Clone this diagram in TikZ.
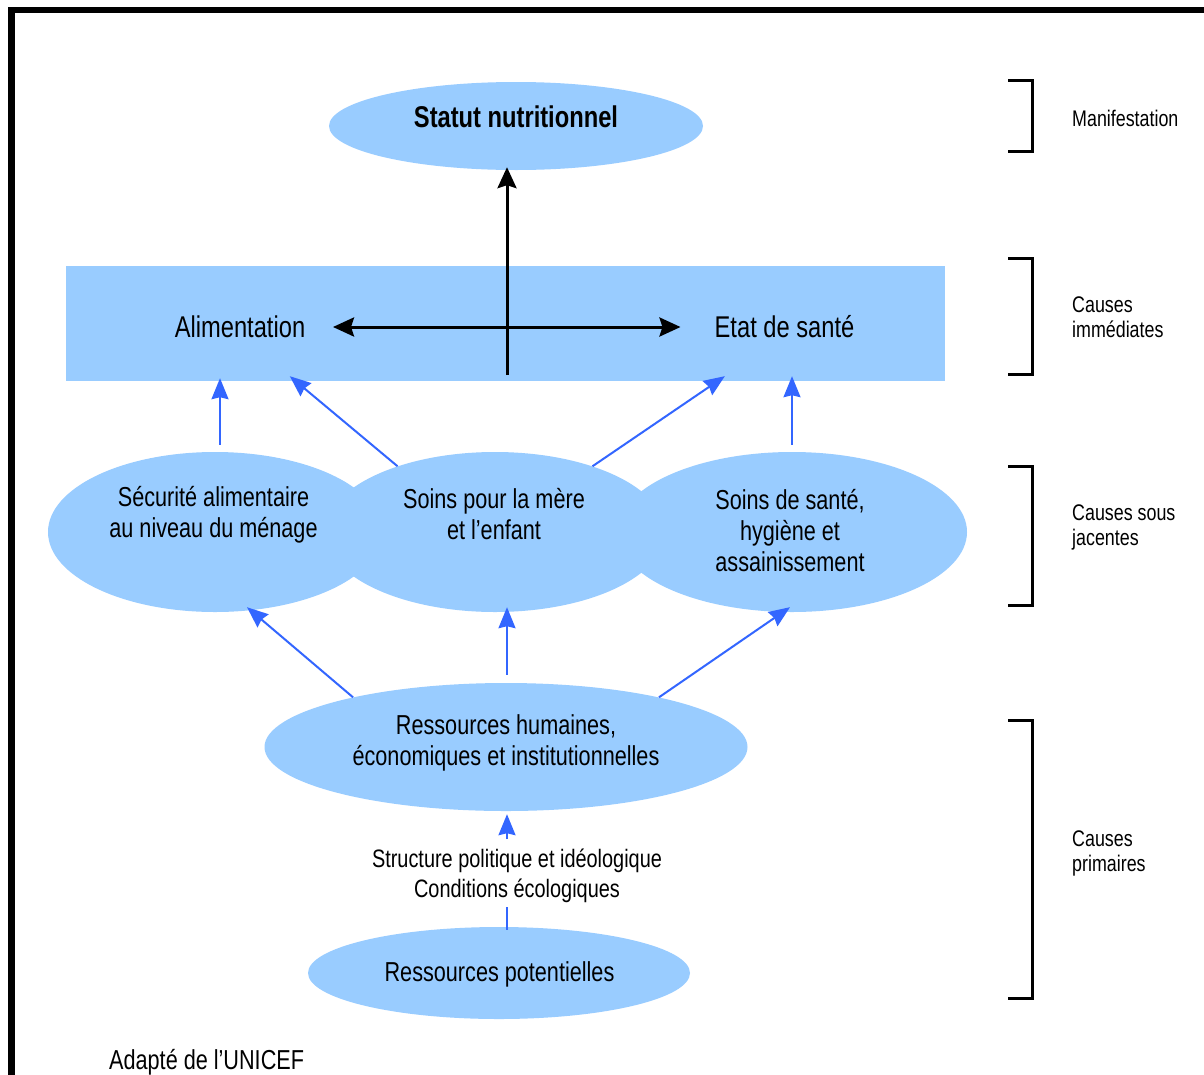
\documentclass[tikz,border=0pt]{standalone}
\usepackage{fontspec}
\setmainfont{Liberation Sans}[FakeStretch=0.79]
\usetikzlibrary{shapes.geometric,arrows.meta,calc}
\definecolor{bleuclair}{HTML}{99CCFF}
\definecolor{bleuvif}{HTML}{3366FF}
\tikzset{
  bulle/.style={ellipse, fill=bleuclair, inner sep=0pt},
  texte/.style={align=center, inner sep=0pt, font=\fontsize{27.4}{31}\selectfont},
  grandtexte/.style={inner sep=0pt, font=\fontsize{30}{34}\selectfont},
  niveau/.style={anchor=west, align=left, inner sep=0pt, font=\fontsize{22.6}{25}\selectfont},
  fleche/.style={bleuvif, line width=2pt, -{Stealth[length=21pt,width=17pt,inset=2pt]}},
  noire/.style={black, line width=3pt},
  pointe/.tip={Stealth[length=21pt,width=19pt,inset=3pt]},
  crochet/.style={black, line width=3pt},
}

\begin{document}
\begin{tikzpicture}[x=1pt,y=-1pt]
  \useasboundingbox (0,0) rectangle (1204,1074);
  \clip (0,0) rectangle (1204,1074);
  \fill[white] (0,0) rectangle (1204,1074);
  \draw[line width=6.5pt] (11.5,1100) -- (11.5,10) -- (1230,10);

  \node[bulle, minimum width=374pt, minimum height=88pt] (stat) at (516,126) {};
  \node[fill=bleuclair, inner sep=0pt, minimum width=879pt, minimum height=115pt] (imm) at (505.5,323.5) {};
  \node[bulle, minimum width=334pt, minimum height=160pt] (sec) at (215,532) {};
  \node[bulle, minimum width=340pt, minimum height=160pt] (mere) at (495,532) {};
  \node[bulle, minimum width=350pt, minimum height=160pt] (sante) at (792,532) {};
  \node[bulle, minimum width=483pt, minimum height=128pt] (hum) at (506,747) {};
  \node[bulle, minimum width=382pt, minimum height=92pt] (pot) at (499,973) {};

  \node[grandtexte] (statT) at (516,117) {\bfseries Statut nutritionnel};
  \node[grandtexte] (alimT) at (240,327) {Alimentation};
  \node[grandtexte] (etatT) at (784.5,327) {Etat de santé};
  \node[texte] (secT) at (213.5,515) {Sécurité alimentaire\\au niveau du ménage};
  \node[texte] (mereT) at (494,514) {Soins pour la mère\\et l’enfant};
  \node[texte] (santeT) at (790,531) {Soins de santé,\\hygiène et\\assainissement};
  \node[texte] (humT) at (506,743) {Ressources humaines,\\économiques et institutionnelles};
  \node[texte, font=\fontsize{25.2}{29.5}\selectfont] (structT) at (517,876) {Structure politique et idéologique\\Conditions écologiques};
  \node[texte] (potT) at (499.5,974) {Ressources potentielles};

  \node[niveau] (manif) at (1072,118) {Manifestation};
  \node[niveau] (immL) at (1072,317) {Causes\\immédiates};
  \node[niveau] (sousL) at (1072,527) {Causes sous\\jacentes};
  \node[niveau] (primL) at (1072,853) {Causes\\primaires};
  \node[texte, anchor=west] (source) at (109,1062) {Adapté de l’UNICEF};

  \draw[crochet] (1008,80) -- (1032,80) -- (1032,151) -- (1008,151);
  \draw[crochet] (1008,258) -- (1032,258) -- (1032,374) -- (1008,374);
  \draw[crochet] (1008,466) -- (1032,466) -- (1032,605) -- (1008,605);
  \draw[crochet] (1008,720) -- (1032,720) -- (1032,998) -- (1008,998);

  \draw[noire, -pointe] ($(imm.south -| hum.north)+(1,-6)$) -- ($(stat.south -| hum.north)+(1,-3)$);
  \draw[noire, pointe-pointe, shorten <=93pt, shorten >=104pt] (alimT.center) -- (etatT.center);

  \draw[fleche] ($(sec.north)+(5,-7)$) -- ($(sec.north |- imm.south)+(5,-3)$);
  \draw[fleche] (mere.146) -- ($(imm.south west)+(224,-5)$);
  \draw[fleche] (mere.34) -- ($(imm.south west)+(659,-5)$);
  \draw[fleche] ($(sante.north)+(0,-7)$) -- ($(sante.north |- imm.south)+(0,-5)$);
  \draw[fleche] (hum.162) -- ($(sec.south)+(32,-5)$);
  \draw[fleche] ($(hum.north)+(1,-8)$) -- ($(hum.north |- mere.south)+(1,-5)$);
  \draw[fleche] (hum.18) -- ($(sante.south)+(-2,-5)$);
  \draw[fleche] ($(structT.north -| hum.south)+(1,-10)$) -- ($(hum.south)+(1,3)$);
  \draw[bleuvif, line width=1.5pt] ($(pot.north -| hum.south)+(1,3)$) -- ($(structT.south -| hum.south)+(1,4)$);
\end{tikzpicture}
\end{document}
